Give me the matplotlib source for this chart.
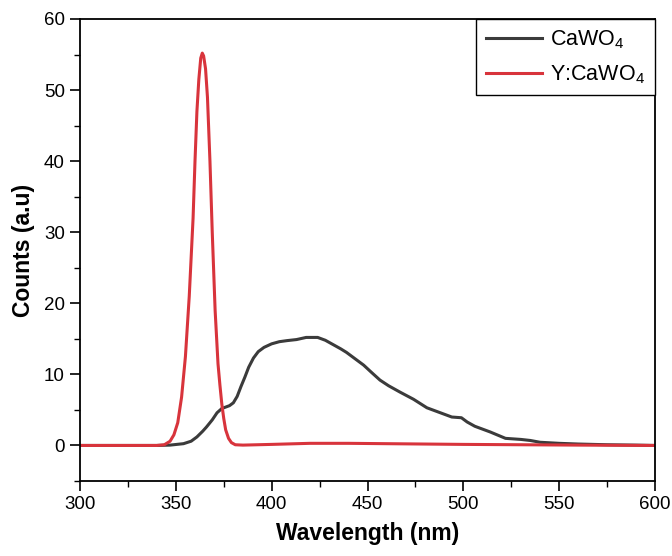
import matplotlib
matplotlib.use("Agg")
import matplotlib.pyplot as plt
from matplotlib.ticker import MultipleLocator

plt.rcParams['font.family'] = ['Liberation Sans', 'DejaVu Sans']
plt.rcParams['mathtext.fontset'] = 'custom'
plt.rcParams['mathtext.rm'] = 'Liberation Sans'

# CaWO4 emission
wl_ca = [300, 340, 347, 354, 358, 361, 364, 366, 369, 371.5, 374, 378, 380, 382, 384, 386,
         388, 390.5, 393, 396, 400, 404, 408, 413, 418, 424, 428, 432, 436, 439, 443, 448,
         452, 456.5, 461, 467, 474, 481, 488, 494, 499, 502, 506, 514, 522, 530, 535, 540,
         550, 560, 575, 590, 600]
cnt_ca = [0, 0.0, 0.05, 0.25, 0.6, 1.2, 2.0, 2.6, 3.6, 4.6, 5.2, 5.6, 6.0, 6.9, 8.3, 9.6,
          11.0, 12.3, 13.2, 13.8, 14.3, 14.6, 14.75, 14.9, 15.2, 15.2, 14.8, 14.2, 13.6, 13.1, 12.3, 11.3,
          10.3, 9.2, 8.4, 7.5, 6.5, 5.3, 4.6, 4.0, 3.9, 3.3, 2.7, 1.9, 1.0, 0.85, 0.7, 0.45,
          0.3, 0.2, 0.1, 0.05, 0.0]

# Y:CaWO4 emission
wl_y = [300, 320, 340, 344, 347, 349, 351, 353, 355, 357, 359, 360, 361, 362, 363, 363.8,
        364.5, 365.5, 366.5, 367.8, 369, 370.5, 372, 373, 374, 375, 376, 377.5, 379, 381,
        385, 400, 420, 440, 460, 480, 500, 530, 560, 600]
cnt_y = [0, 0, 0, 0.1, 0.6, 1.5, 3.2, 6.8, 12.5, 21, 32, 40, 47, 51.5, 54.5, 55.2,
         54.8, 53, 49, 40, 30, 19, 11.5, 8.5, 5.8, 3.8, 2.2, 1.0, 0.4, 0.1,
         0.05, 0.15, 0.3, 0.3, 0.25, 0.2, 0.15, 0.1, 0.05, 0.0]

xticks = [300, 350, 400, 450, 500, 550, 600]
yticks = [0, 10, 20, 30, 40, 50, 60]

fig = plt.figure(figsize=(6.72, 5.56), dpi=100)
ax = fig.add_axes([80/672, 1-481/556, (655-80)/672, (481-19)/556])

ax.plot(wl_ca, cnt_ca, color='#3b3b3b', lw=2.2, label=r'CaWO$_4$')
ax.plot(wl_y, cnt_y, color='#d8343c', lw=2.2, label=r'Y:CaWO$_4$')

ax.set_xlim(300, 600)
ax.set_ylim(-5, 60)
ax.set_xticks(xticks)
ax.set_yticks(yticks)
ax.xaxis.set_minor_locator(MultipleLocator(25))
ax.yaxis.set_minor_locator(MultipleLocator(5))
ax.tick_params(which='major', direction='out', length=7, width=1.2, labelsize=13.5,
               colors='black', pad=4)
ax.tick_params(which='minor', direction='out', length=4, width=1.0)
ax.tick_params(top=False, right=False)
for s in ax.spines.values():
    s.set_linewidth(1.3)

ax.set_xlabel('Wavelength (nm)', fontsize=16.5, fontweight='bold', labelpad=6)
ax.set_ylabel('Counts (a.u)', fontsize=16.5, fontweight='bold', labelpad=6)

leg = ax.legend(loc='upper right', borderaxespad=0, fancybox=False, edgecolor='black',
                fontsize=15.5, handlelength=2.6, handletextpad=0.4, borderpad=0.45,
                labelspacing=0.55, framealpha=1)
leg.get_frame().set_linewidth(1.0)

fig.savefig('out.png', dpi=100)
